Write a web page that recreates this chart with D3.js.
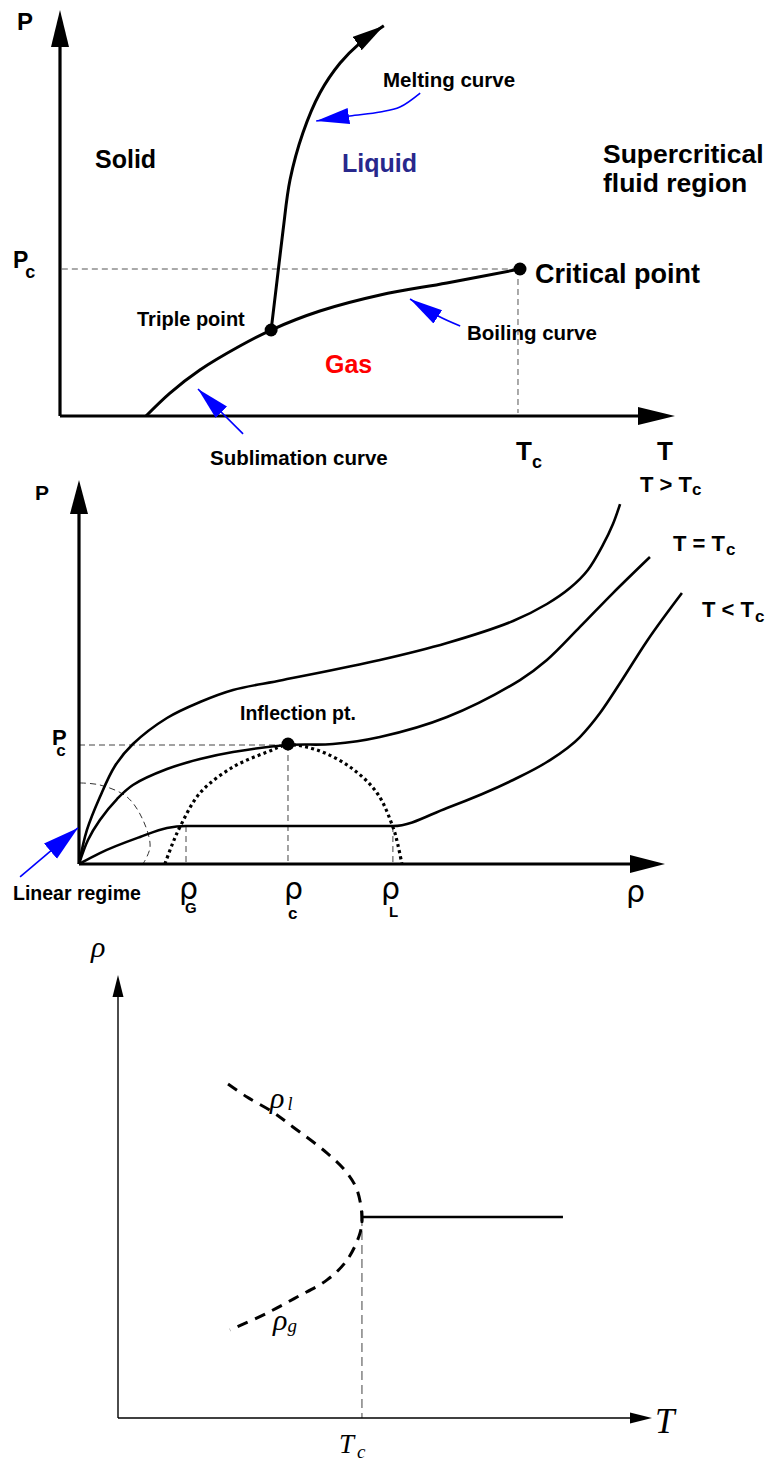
<!DOCTYPE html>
<html>
<head>
<meta charset="utf-8">
<script src="https://cdn.jsdelivr.net/npm/d3@7"></script>
<style>
  body { margin: 0; background: #fff; }
  svg { display: block; }
  .lbl { font-family: "Liberation Sans", Arial, sans-serif; font-weight: bold; fill: #000; }
  .greek { font-family: "DejaVu Sans", sans-serif; font-weight: normal; fill: #000; }
  .greek tspan.s { font-family: "Liberation Sans", Arial, sans-serif; font-weight: bold; }
  .tex { font-family: "Liberation Serif", "DejaVu Serif", serif; font-style: italic; fill: #000; }
</style>
</head>
<body>
<div id="chart"></div>
<script>
const width = 773, height = 1470;

// ---- panel 1 : P-T phase diagram (T in units of Tc, P in units of Pc)
const boilingCurve = [[0.187, 0], [0.239, 0.156], [0.304, 0.313], [0.391, 0.476], [0.459, 0.585],
  [0.565, 0.714], [0.696, 0.823], [0.841, 0.905], [1.0, 1.0]];
const meltingCurve = [[0.459, 0.585], [0.472, 0.925], [0.485, 1.265], [0.5, 1.605], [0.528, 1.925],
  [0.565, 2.197], [0.609, 2.401], [0.652, 2.537], [0.704, 2.655]];
const triplePoint = [0.459, 0.585];
const criticalPoint = [1.0, 1.0];
const pointerMelting = [[0.783, 2.197], [0.739, 2.102], [0.696, 2.068], [0.63, 2.041], [0.557, 2.007]];
const pointerBoiling = [[0.87, 0.612], [0.822, 0.68], [0.761, 0.796]];
const pointerSublimation = [[0.398, -0.122], [0.3, 0.184]];

// ---- panel 2 : isotherms P(rho) (rho in units of rho_c, P in units of Pc)
const isoAbove = [[0, 0], [0.038, 0.286], [0.1, 0.563], [0.172, 0.824], [0.258, 1.008], [0.421, 1.227],
  [0.579, 1.361], [0.737, 1.462], [0.976, 1.546], [1.44, 1.714], [1.761, 1.857], [2.077, 2.042],
  [2.239, 2.185], [2.349, 2.319], [2.435, 2.471], [2.507, 2.681], [2.555, 2.857], [2.589, 3.025]];
const isoCritical = [[0, 0], [0.043, 0.202], [0.1, 0.37], [0.182, 0.546], [0.258, 0.664], [0.421, 0.798],
  [0.579, 0.882], [0.737, 0.941], [1.0, 1.0], [1.215, 1.008], [1.44, 1.067], [1.761, 1.235],
  [2.11, 1.546], [2.239, 1.714], [2.397, 1.992], [2.555, 2.277], [2.732, 2.58]];
const isoBelow = [[0, 0], [0.1, 0.092], [0.292, 0.227], [0.421, 0.303], [0.512, 0.319], [1.502, 0.319],
  [1.761, 0.471], [2.077, 0.706], [2.239, 0.857], [2.397, 1.067], [2.493, 1.269], [2.589, 1.521],
  [2.718, 1.874], [2.885, 2.277]];
const coexistenceDome = [[0.411, 0], [0.445, 0.16], [0.483, 0.311], [0.579, 0.597], [0.737, 0.815],
  [0.9, 0.941], [1.0, 1.0], [1.139, 0.958], [1.297, 0.815], [1.426, 0.597], [1.502, 0.311],
  [1.526, 0.16], [1.545, 0]];
const linearArc = [[0.005, 0.681], [0.1, 0.664], [0.23, 0.563], [0.306, 0.37], [0.34, 0.143], [0.306, 0]];
const rhoGas = 0.512, rhoLiquid = 1.502, plateauP = 0.319;
const inflectionPoint = [1.0, 1.0];
const pointerLinear = [[-0.282, -0.109], [-0.005, 0.303]];

// ---- panel 3 : order parameter rho(T) (T in units of Tc, rho in units of rho_c)
const rhoBranches = [[0.451, 1.662], [0.529, 1.597], [0.635, 1.522], [0.717, 1.448], [0.857, 1.318],
  [0.939, 1.219], [0.98, 1.134], [1.0, 1.0], [0.992, 0.92], [0.939, 0.786], [0.857, 0.687],
  [0.734, 0.602], [0.611, 0.522], [0.488, 0.453], [0.459, 0.438]];
const supercritical = [[1.0, 1.0], [1.824, 1.0]];

const svg = d3.select("#chart").append("svg")
  .attr("width", width).attr("height", height);

const defs = svg.append("defs");
let addHead = (id, len, hw, color) => {
  defs.append("marker")
    .attr("id", id)
    .attr("markerUnits", "userSpaceOnUse")
    .attr("markerWidth", len + 2).attr("markerHeight", 2 * hw + 2)
    .attr("viewBox", `0 ${-hw - 1} ${len + 2} ${2 * hw + 2}`)
    .attr("refX", len).attr("refY", 0)
    .attr("orient", "auto")
    .append("path")
    .attr("d", `M0,${-hw}L${len},0L0,${hw}Z`)
    .attr("fill", color);
};
addHead("blueHead", 33, 8, "#0000ff");
addHead("blueHeadBig", 36, 10, "#0000ff");
addHead("curveHead", 32, 8, "#000");

// axis line ending in a filled arrow head at the end of the scale range
let arrowAxis = (g, x, y, dir, len, hw, sw) => {
  const x0 = x(0), y0 = y(0);
  if (dir === "x") {
    const tip = x.range()[1];
    g.append("line").attr("x1", x0).attr("y1", y0).attr("x2", tip - len + 1).attr("y2", y0)
      .attr("stroke", "#000").attr("stroke-width", sw);
    g.append("path").attr("d", `M${tip},${y0}L${tip - len},${y0 - hw}L${tip - len},${y0 + hw}Z`);
  } else {
    const tip = y.range()[1];
    g.append("line").attr("x1", x0).attr("y1", y0).attr("x2", x0).attr("y2", tip + len - 1)
      .attr("stroke", "#000").attr("stroke-width", sw);
    g.append("path").attr("d", `M${x0},${tip}L${x0 - hw},${tip + len}L${x0 + hw},${tip + len}Z`);
  }
};

// text with optional subscript (kept in one text element)
let label = (g, x, y, txt, size, o = {}) => {
  const t = g.append("text").attr("class", o.cls || "lbl").attr("x", x).attr("y", y)
    .style("font-size", size + "px");
  if (o.fill) t.style("fill", o.fill);
  t.append("tspan").text(txt);
  if (o.sub) {
    t.append("tspan").attr("class", "s").attr("dx", o.dx || 0).attr("dy", o.dy || 0)
      .style("font-size", o.subSize + "px").text(o.sub);
  }
};

let dashed = (g, x1, y1, x2, y2, color, sw, dash) => {
  g.append("line").attr("x1", x1).attr("y1", y1).attr("x2", x2).attr("y2", y2)
    .attr("stroke", color).attr("stroke-width", sw).attr("stroke-dasharray", dash);
};

// ================= Panel 1 =================
const x1 = d3.scaleLinear().domain([0, 1.337]).range([60, 675]);
const y1 = d3.scaleLinear().domain([0, 2.762]).range([416, 10]);
const g1 = svg.append("g");
const line1 = d3.line().x(d => x1(d[0])).y(d => y1(d[1])).curve(d3.curveCatmullRom);

dashed(g1, x1(0.004), y1(1), x1(1), y1(1), "#555", 1, "6,4");
dashed(g1, x1(1) - 2, y1(1), x1(1) - 2, y1(0) - 3, "#555", 1, "6,4");

arrowAxis(g1, x1, y1, "x", 37, 9, 3.2);
arrowAxis(g1, x1, y1, "y", 37, 9, 3.2);

g1.append("path").attr("d", line1(boilingCurve))
  .attr("fill", "none").attr("stroke", "#000").attr("stroke-width", 3);
g1.append("path").attr("d", line1(meltingCurve))
  .attr("fill", "none").attr("stroke", "#000").attr("stroke-width", 3)
  .attr("marker-end", "url(#curveHead)");

g1.selectAll(".dot").data([triplePoint, criticalPoint]).enter()
  .append("circle").attr("class", "dot")
  .attr("cx", d => x1(d[0])).attr("cy", d => y1(d[1])).attr("r", 6.5).attr("fill", "#000");

[pointerMelting, pointerBoiling, pointerSublimation].forEach(p => {
  g1.append("path").attr("d", line1(p))
    .attr("fill", "none").attr("stroke", "#0000ff").attr("stroke-width", 1.6)
    .attr("marker-end", "url(#blueHead)");
});

label(g1, 17, 30, "P", 24);
label(g1, 13, 268, "P", 23, { sub: "c", subSize: 18, dx: -3, dy: 10 });
label(g1, 95, 168, "Solid", 25);
label(g1, 342, 172, "Liquid", 25, { fill: "#28288c" });
label(g1, 383, 87, "Melting curve", 20.5);
label(g1, 603, 163, "Supercritical", 26.5);
label(g1, 603, 192, "fluid region", 26.5);
label(g1, 535, 283, "Critical point", 27);
label(g1, 137, 326, "Triple point", 20);
label(g1, 325, 373, "Gas", 25, { fill: "#ff0000" });
label(g1, 467, 340, "Boiling curve", 20.5);
label(g1, 210, 465, "Sublimation curve", 20.5);
label(g1, 516, 460, "T", 26, { sub: "c", subSize: 18, dx: 0, dy: 8 });
label(g1, 657, 460, "T", 26);

// ================= Panel 2 =================
const x2 = d3.scaleLinear().domain([0, 2.804]).range([79, 665]);
const y2 = d3.scaleLinear().domain([0, 3.227]).range([864, 480]);
const g2 = svg.append("g");
const line2 = d3.line().x(d => x2(d[0])).y(d => y2(d[1])).curve(d3.curveCatmullRom.alpha(0.5));
// monotone keeps the two-phase plateau exactly flat
const line2flat = d3.line().x(d => x2(d[0])).y(d => y2(d[1])).curve(d3.curveMonotoneX);

dashed(g2, x2(0), y2(inflectionPoint[1]), x2(inflectionPoint[0]), y2(inflectionPoint[1]), "#444", 1, "6,4");
dashed(g2, x2(inflectionPoint[0]), y2(inflectionPoint[1]), x2(inflectionPoint[0]), y2(0), "#444", 1, "6,4");
dashed(g2, x2(rhoGas), y2(plateauP), x2(rhoGas), y2(0), "#444", 1, "6,4");
dashed(g2, x2(rhoLiquid), y2(plateauP), x2(rhoLiquid), y2(0), "#444", 1, "6,4");

g2.append("path").attr("d", line2(linearArc))
  .attr("fill", "none").attr("stroke", "#333").attr("stroke-width", 1).attr("stroke-dasharray", "6,4");

g2.append("path").attr("d", line2(coexistenceDome))
  .attr("fill", "none").attr("stroke", "#000").attr("stroke-width", 3.2).attr("stroke-dasharray", "3,3.2");

arrowAxis(g2, x2, y2, "x", 35, 9, 3.2);
arrowAxis(g2, x2, y2, "y", 34, 9, 3.2);

g2.selectAll(".iso").data([isoAbove, isoCritical]).enter()
  .append("path").attr("class", "iso")
  .attr("d", d => line2(d))
  .attr("fill", "none").attr("stroke", "#000").attr("stroke-width", 2.6);
g2.append("path").attr("class", "iso")
  .attr("d", line2flat(isoBelow))
  .attr("fill", "none").attr("stroke", "#000").attr("stroke-width", 2.6);

g2.append("circle").attr("cx", x2(inflectionPoint[0])).attr("cy", y2(inflectionPoint[1]) - 1)
  .attr("r", 6.5).attr("fill", "#000");

g2.append("path").attr("d", d3.line().x(d => x2(d[0])).y(d => y2(d[1]))(pointerLinear))
  .attr("fill", "none").attr("stroke", "#0000ff").attr("stroke-width", 1.6)
  .attr("marker-end", "url(#blueHeadBig)");

label(g2, 35, 500, "P", 21);
label(g2, 640, 492, "T > T", 22, { sub: "c", subSize: 17, dx: 0, dy: 3 });
label(g2, 673, 551, "T = T", 22, { sub: "c", subSize: 17, dx: 1, dy: 4 });
label(g2, 702, 617, "T < T", 22, { sub: "c", subSize: 17, dx: 1, dy: 5 });
label(g2, 240, 720, "Inflection pt.", 19.5);
label(g2, 52, 745, "P", 22, { sub: "c", subSize: 17, dx: -10.5, dy: 11 });
label(g2, 13, 900, "Linear regime", 19.5);
label(g2, 179, 899, "ρ", 30, { cls: "greek", sub: "G", subSize: 15, dx: -13, dy: 14 });
label(g2, 284, 899, "ρ", 30, { cls: "greek", sub: "c", subSize: 17, dx: -15, dy: 20 });
label(g2, 381, 899, "ρ", 30, { cls: "greek", sub: "L", subSize: 15, dx: -11, dy: 18 });
label(g2, 626, 902, "ρ", 30, { cls: "greek" });

// ================= Panel 3 =================
const x3 = d3.scaleLinear().domain([0, 2.189]).range([118, 652]);
const y3 = d3.scaleLinear().domain([0, 2.204]).range([1418, 975]);
const g3 = svg.append("g");

dashed(g3, x3(1), y3(1), x3(1), y3(0), "#555", 1.1, "9,5");

arrowAxis(g3, x3, y3, "x", 22, 5.5, 1.4);
arrowAxis(g3, x3, y3, "y", 22, 5.5, 1.4);

g3.append("path")
  .attr("d", d3.line().x(d => x3(d[0])).y(d => y3(d[1])).curve(d3.curveCatmullRom)(rhoBranches))
  .attr("fill", "none").attr("stroke", "#000").attr("stroke-width", 3).attr("stroke-dasharray", "11,8");

g3.append("path")
  .attr("d", d3.line().x(d => x3(d[0])).y(d => y3(d[1]))(supercritical))
  .attr("fill", "none").attr("stroke", "#000").attr("stroke-width", 2.6);
g3.append("line").attr("x1", x3(1)).attr("x2", x3(1))
  .attr("y1", y3(1) - 6).attr("y2", y3(1) + 6)
  .attr("stroke", "#000").attr("stroke-width", 2.6);

label(g3, 91, 957, "ρ", 30, { cls: "tex" });
label(g3, 655, 1433, "T", 35, { cls: "tex" });
label(g3, 339, 1453, "T", 27, { cls: "tex", sub: "c", subSize: 19, dx: 3, dy: 5 });
label(g3, 270, 1108, "ρ", 30, { cls: "tex", sub: "l", subSize: 18, dx: 3, dy: 2 });
label(g3, 273, 1330, "ρ", 30, { cls: "tex", sub: "g", subSize: 19, dx: 0, dy: 2 });
</script>
</body>
</html>
